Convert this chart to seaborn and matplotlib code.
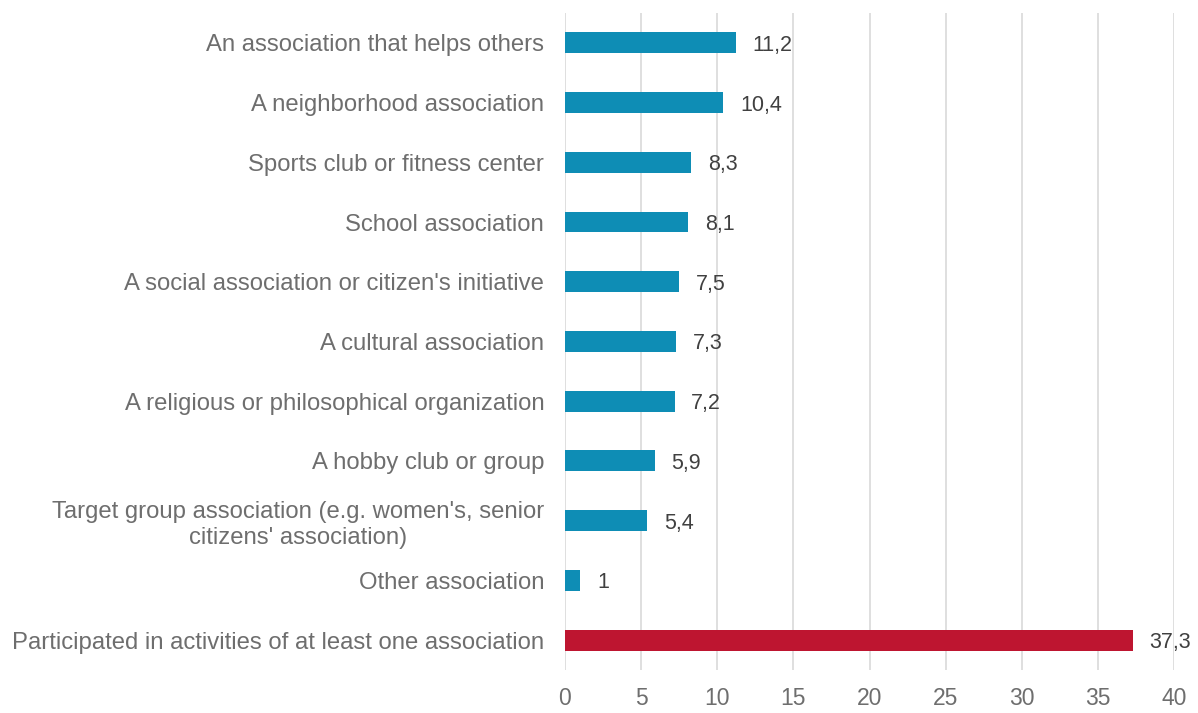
import matplotlib
matplotlib.use("Agg")
import matplotlib.pyplot as plt
import seaborn as sns
import pandas as pd

categories = [
    "An association that helps others",
    "A neighborhood association",
    "Sports club or fitness center",
    "School association",
    "A social association or citizen's initiative",
    "A cultural association",
    "A religious or philosophical organization",
    "A hobby club or group",
    "Target group association (e.g. women's, senior\ncitizens' association)",
    "Other association",
    "Participated in activities of at least one association",
]
values = [11.2, 10.4, 8.3, 8.1, 7.5, 7.3, 7.2, 5.9, 5.4, 1.0, 37.3]
groups = ["type"] * 10 + ["total"]
x_ticks = [0, 5, 10, 15, 20, 25, 30, 35, 40]

df = pd.DataFrame({"category": categories, "value": values, "group": groups})

sns.set_theme(style="white")
plt.rcParams["font.family"] = ["Liberation Sans", "DejaVu Sans"]

fig = plt.figure(figsize=(11.98, 7.13), dpi=100)
ax = fig.add_axes([0.4716, 0.0603, 0.5084, 0.9215])

palette = {"type": "#0E8DB5", "total": "#BE1530"}
sns.barplot(data=df, x="value", y="category", hue="group", palette=palette,
            orient="h", width=0.35, dodge=False, legend=False, ax=ax,
            saturation=1, linewidth=0)

ax.set_xlim(0, 40)
ax.set_ylim(len(categories) - 0.5, -0.5)
ax.set_xticks(x_ticks)
ax.set_xticklabels([str(t) for t in x_ticks])
ax.xaxis.grid(True, color="#D9D9D9", linewidth=1.2)
ax.set_axisbelow(True)
for s in ax.spines.values():
    s.set_visible(False)
ax.set_xlabel("")
ax.set_ylabel("")
ax.tick_params(axis="x", length=0, pad=12, labelsize=16.5, labelcolor="#6E6E6E")
ax.tick_params(axis="y", length=0, pad=15, labelsize=17.2, labelcolor="#6E6E6E")
for lbl in ax.get_yticklabels():
    lbl.set_multialignment("center")

for i, v in enumerate(values):
    txt = f"{v:g}".replace(".", ",")
    ax.text(v + 1.1, i, txt, va="center_baseline", ha="left", fontsize=15.5,
            color="#404040")

fig.savefig("out.png", dpi=100)
